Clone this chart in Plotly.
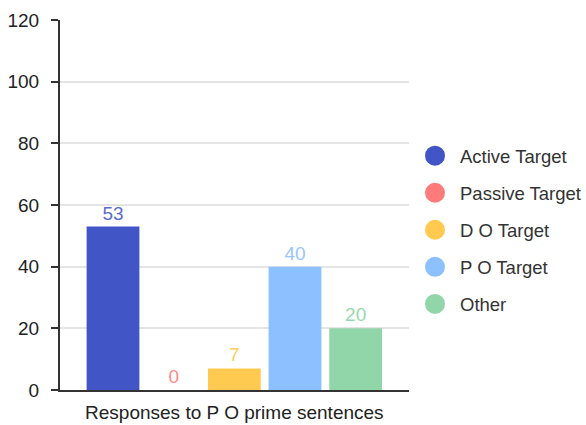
import plotly.graph_objects as go

# Responses to P O prime sentences, by response type
category = "Responses to P O prime sentences"
series_names = ["Active Target", "Passive Target", "D O Target", "P O Target", "Other"]
series_values = [53, 0, 7, 40, 20]
series_colors = ["#4155C6", "#FF7B7B", "#FFCA4F", "#8CC0FF", "#91D6A9"]
label_colors = ["#5A6BD0", "#FF8A8A", "#FFCE5E", "#96C6FF", "#98D9AE"]
y_ticks = [0, 20, 40, 60, 80, 100, 120]

FONT = "Arial, Liberation Sans, sans-serif"
FS = 19

W, H = 586, 425
ML = 60
PLOT_W = 350  # width of the plotting area in px

fig = go.Figure()

for name, val, col, lcol in zip(series_names, series_values, series_colors, label_colors):
    fig.add_trace(go.Bar(
        x=[category], y=[val], name=name,
        marker=dict(color=col, line=dict(width=0)),
        text=[str(val)], textposition="outside",
        textfont=dict(color=lcol, size=FS, family=FONT),
        cliponaxis=False, showlegend=False,
    ))
    # circular legend entries
    fig.add_trace(go.Scatter(
        x=[None], y=[None], mode="markers", name=name,
        marker=dict(symbol="circle", size=16, color=col, line=dict(color=col, width=4)),
        legendgroup=name,
    ))

fig.update_layout(
    width=W, height=H,
    margin=dict(l=ML, r=0, t=20, b=35),
    paper_bgcolor="white", plot_bgcolor="white",
    barmode="group", bargap=0.13, bargroupgap=0.13,
    font=dict(family=FONT, size=FS, color="#222222"),
    legend=dict(
        x=1.004, xanchor="right", y=0.432, yanchor="middle",
        font=dict(size=18.5, color="#333333"),
        tracegroupgap=10, itemsizing="trace", itemwidth=40,
    ),
    xaxis=dict(
        domain=[0, PLOT_W / (W - ML)],
        showline=True, linecolor="#333333", linewidth=2,
        ticks="", tickfont=dict(size=FS, color="#222222"),
        showgrid=False, fixedrange=True,
        automargin=False, ticklabelstandoff=4,
    ),
    yaxis=dict(
        range=[0, 120], tickvals=y_ticks,
        showline=True, linecolor="#333333", linewidth=2,
        ticks="outside", ticklen=7, tickcolor="#333333", tickwidth=2,
        showgrid=True, gridcolor="#e4e4e4", gridwidth=2,
        zeroline=False, ticklabelstandoff=8, automargin=False,
        tickfont=dict(size=FS, color="#222222"),
    ),
)

fig.write_html("out.html")
